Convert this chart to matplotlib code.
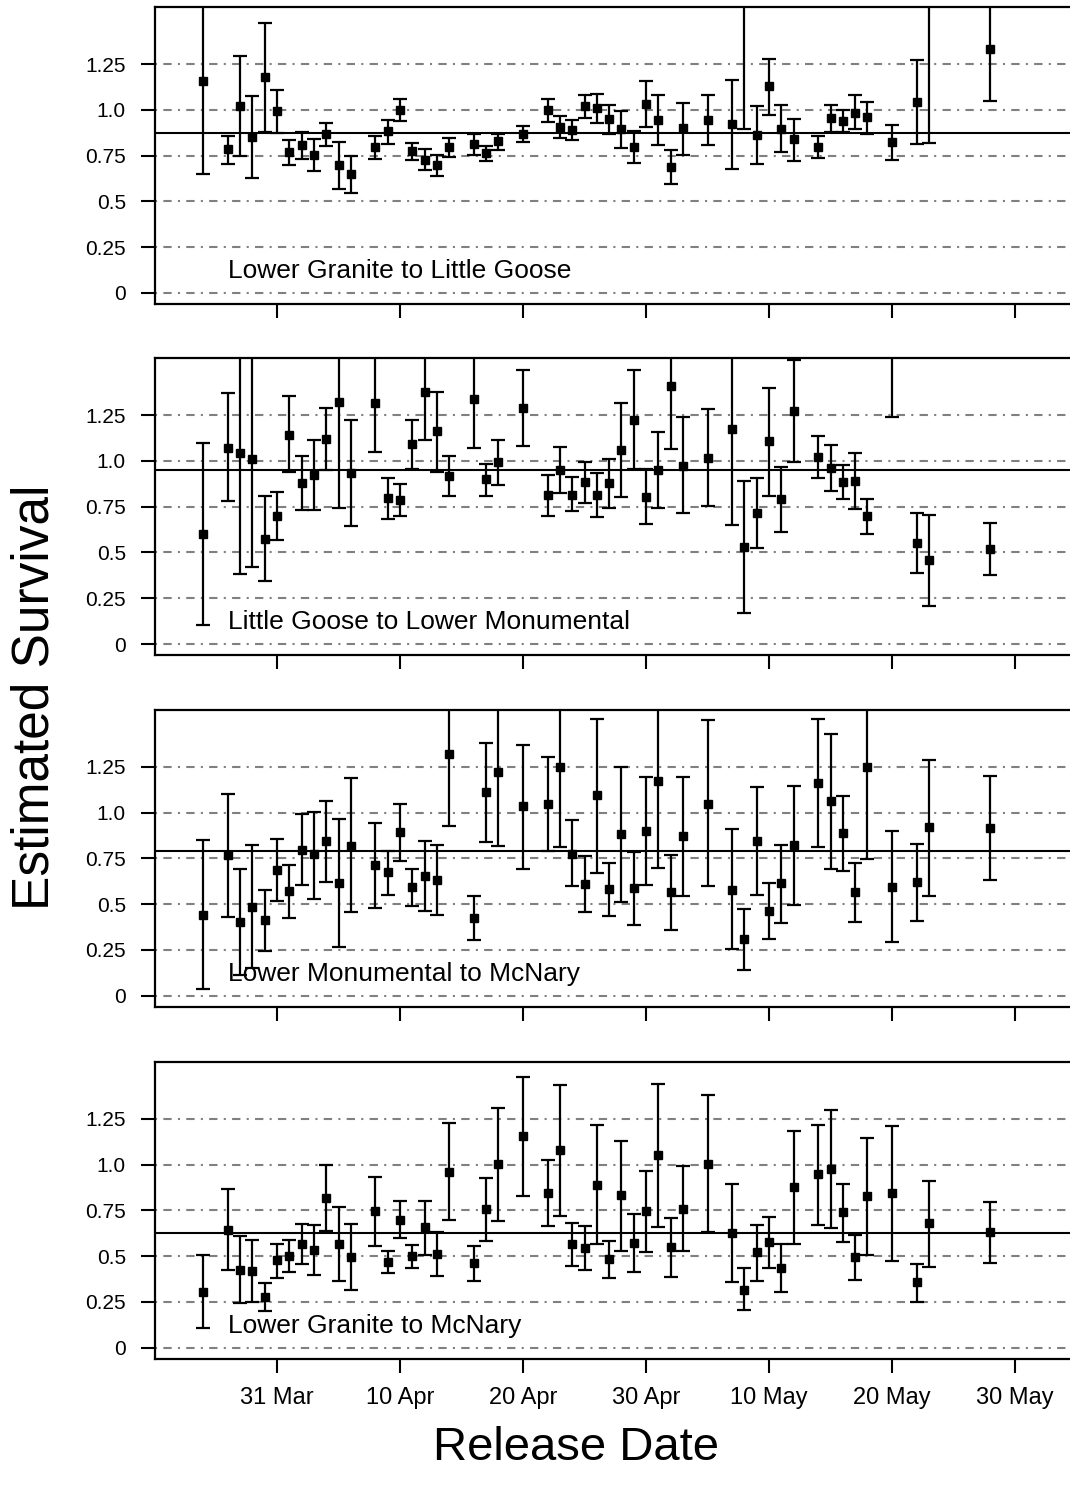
import matplotlib
matplotlib.use('Agg')
import matplotlib.pyplot as plt
import matplotlib.dates as mdates
import numpy as np
from datetime import datetime

plt.rcParams['font.family'] = ['Liberation Sans', 'DejaVu Sans']

YEAR = 2010

# release dates (month-day), shared by all four reaches
release_dates = ['03-25', '03-27', '03-28', '03-29', '03-30', '03-31',
                 '04-01', '04-02', '04-03', '04-04', '04-05', '04-06', '04-08', '04-09',
                 '04-10', '04-11', '04-12', '04-13', '04-14', '04-16', '04-17', '04-18',
                 '04-20', '04-22', '04-23', '04-24', '04-25', '04-26', '04-27', '04-28',
                 '04-29', '04-30',
                 '05-01', '05-02', '05-03', '05-05', '05-07', '05-08', '05-09', '05-10',
                 '05-11', '05-12', '05-14', '05-15', '05-16', '05-17', '05-18', '05-20',
                 '05-22', '05-23', '05-28']

reach_names = ['Lower Granite to Little Goose',
               'Little Goose to Lower Monumental',
               'Lower Monumental to McNary',
               'Lower Granite to McNary']

reach_means = [0.873, 0.953, 0.791, 0.626]

# Lower Granite to Little Goose
est1 = [1.155, 0.784, 1.023, 0.853, 1.179, 0.993,
        0.770, 0.806, 0.753, 0.866, 0.697, 0.648, 0.795, 0.882, 0.997, 0.773, 0.728, 0.697, 0.795,
        0.813, 0.762, 0.828, 0.870, 1.001, 0.904, 0.890, 1.019, 1.008, 0.950, 0.893, 0.797, 1.032,
        0.944, 0.686, 0.899, 0.943, 0.921, 1.700, 0.864, 1.128, 0.895, 0.841, 0.795, 0.953, 0.941,
        0.984, 0.959, 0.822, 1.041, 1.700, 1.330]
lo1 = [0.651, 0.706, 0.750, 0.628, 0.877, 0.873,
       0.697, 0.731, 0.666, 0.801, 0.569, 0.544, 0.731, 0.815, 0.939, 0.726, 0.673, 0.639, 0.742,
       0.753, 0.719, 0.781, 0.826, 0.935, 0.844, 0.833, 0.957, 0.926, 0.870, 0.790, 0.708, 0.906,
       0.808, 0.595, 0.755, 0.806, 0.677, 0.895, 0.704, 0.972, 0.771, 0.722, 0.739, 0.881, 0.881,
       0.895, 0.868, 0.726, 0.811, 0.817, 1.050]
hi1 = [1.660, 0.859, 1.295, 1.077, 1.474, 1.110,
       0.837, 0.879, 0.841, 0.928, 0.826, 0.750, 0.857, 0.946, 1.059, 0.819, 0.788, 0.755, 0.846,
       0.866, 0.801, 0.868, 0.913, 1.059, 0.968, 0.943, 1.079, 1.086, 1.024, 0.992, 0.882, 1.155,
       1.079, 0.779, 1.035, 1.081, 1.161, 2.500, 1.023, 1.279, 1.026, 0.952, 0.855, 1.028, 1.001,
       1.081, 1.044, 0.917, 1.272, 2.600, 1.610]

# Little Goose to Lower Monumental
est2 = [0.600, 1.073, 1.043, 1.008, 0.575, 0.699,
        1.144, 0.879, 0.922, 1.117, 1.319, 0.933, 1.314, 0.795, 0.786, 1.092, 1.374, 1.163, 0.917,
        1.336, 0.901, 0.993, 1.288, 0.813, 0.950, 0.815, 0.884, 0.813, 0.879, 1.059, 1.221, 0.802,
        0.950, 1.408, 0.973, 1.015, 1.174, 0.531, 0.715, 1.108, 0.790, 1.275, 1.021, 0.959, 0.884,
        0.890, 0.699, 1.800, 0.551, 0.459, 0.519]
lo2 = [0.102, 0.782, 0.384, 0.420, 0.346, 0.566,
       0.937, 0.731, 0.731, 0.950, 0.741, 0.644, 1.050, 0.684, 0.697, 0.957, 1.112, 0.939, 0.808,
       1.070, 0.811, 0.870, 1.079, 0.699, 0.826, 0.726, 0.770, 0.691, 0.741, 0.804, 0.957, 0.653,
       0.744, 1.063, 0.713, 0.751, 0.650, 0.171, 0.526, 0.811, 0.613, 0.992, 0.906, 0.833, 0.790,
       0.737, 0.602, 1.239, 0.386, 0.207, 0.377]
hi2 = [1.095, 1.370, 1.700, 1.600, 0.806, 0.832,
       1.357, 1.026, 1.115, 1.288, 1.900, 1.225, 1.580, 0.904, 0.872, 1.225, 1.640, 1.377, 1.028,
       1.600, 0.984, 1.115, 1.494, 0.922, 1.075, 0.913, 0.992, 0.932, 1.013, 1.317, 1.497, 0.957,
       1.159, 1.750, 1.239, 1.281, 1.700, 0.890, 0.906, 1.397, 0.968, 1.550, 1.137, 1.086, 0.977,
       1.043, 0.790, 2.400, 0.713, 0.706, 0.660]

# Lower Monumental to McNary
est3 = [0.442, 0.768, 0.400, 0.486, 0.411, 0.684,
        0.570, 0.797, 0.771, 0.842, 0.613, 0.819, 0.711, 0.673, 0.892, 0.591, 0.651, 0.630, 1.319,
        0.422, 1.110, 1.221, 1.033, 1.044, 1.248, 0.775, 0.610, 1.094, 0.582, 0.881, 0.586, 0.901,
        1.170, 0.564, 0.870, 1.048, 0.579, 0.308, 0.842, 0.460, 0.613, 0.821, 1.159, 1.061, 0.886,
        0.564, 1.246, 0.595, 0.619, 0.919, 0.913]
lo3 = [0.038, 0.429, 0.115, 0.153, 0.242, 0.515,
       0.426, 0.604, 0.529, 0.622, 0.266, 0.457, 0.477, 0.551, 0.733, 0.491, 0.460, 0.439, 0.928,
       0.302, 0.839, 0.815, 0.693, 0.788, 0.810, 0.600, 0.457, 0.668, 0.433, 0.511, 0.388, 0.604,
       0.695, 0.360, 0.542, 0.597, 0.253, 0.142, 0.548, 0.307, 0.398, 0.493, 0.810, 0.691, 0.682,
       0.402, 0.744, 0.291, 0.408, 0.544, 0.630]
hi3 = [0.848, 1.099, 0.691, 0.821, 0.575, 0.855,
       0.711, 0.992, 1.004, 1.064, 0.963, 1.188, 0.941, 0.791, 1.044, 0.693, 0.846, 0.822, 1.710,
       0.544, 1.379, 1.630, 1.368, 1.303, 1.690, 0.957, 0.761, 1.512, 0.724, 1.246, 0.782, 1.195,
       1.650, 0.766, 1.194, 1.503, 0.908, 0.475, 1.137, 0.617, 0.824, 1.143, 1.510, 1.430, 1.088,
       0.726, 1.750, 0.897, 0.830, 1.288, 1.201]

# Lower Granite to McNary
est4 = [0.302, 0.644, 0.424, 0.418, 0.277, 0.479,
        0.502, 0.564, 0.533, 0.815, 0.564, 0.495, 0.746, 0.468, 0.697, 0.502, 0.659, 0.511, 0.959,
        0.462, 0.757, 1.001, 1.155, 0.844, 1.079, 0.564, 0.546, 0.888, 0.484, 0.833, 0.571, 0.746,
        1.052, 0.549, 0.757, 1.006, 0.624, 0.318, 0.522, 0.575, 0.435, 0.877, 0.948, 0.975, 0.742,
        0.495, 0.828, 0.844, 0.358, 0.680, 0.631]
lo4 = [0.106, 0.422, 0.244, 0.249, 0.202, 0.382,
       0.411, 0.457, 0.395, 0.635, 0.364, 0.315, 0.553, 0.406, 0.597, 0.437, 0.509, 0.391, 0.697,
       0.366, 0.584, 0.690, 0.830, 0.666, 0.717, 0.448, 0.422, 0.564, 0.380, 0.531, 0.411, 0.522,
       0.662, 0.388, 0.526, 0.630, 0.357, 0.207, 0.364, 0.437, 0.302, 0.564, 0.671, 0.655, 0.580,
       0.369, 0.508, 0.473, 0.251, 0.442, 0.464]
hi4 = [0.508, 0.866, 0.610, 0.588, 0.353, 0.568,
       0.590, 0.677, 0.670, 0.999, 0.770, 0.675, 0.935, 0.531, 0.799, 0.560, 0.804, 0.630, 1.225,
       0.553, 0.928, 1.310, 1.481, 1.024, 1.437, 0.682, 0.664, 1.217, 0.584, 1.130, 0.730, 0.964,
       1.441, 0.706, 0.990, 1.381, 0.895, 0.433, 0.673, 0.715, 0.568, 1.185, 1.219, 1.297, 0.893,
       0.617, 1.148, 1.212, 0.460, 0.913, 0.797]

y_ticks = [0, 0.25, 0.5, 0.75, 1.0, 1.25]
y_tick_labels = ['0', '0.25', '0.5', '0.75', '1.0', '1.25']
x_tick_dates = ['03-31', '04-10', '04-20', '04-30', '05-10', '05-20', '05-30']


def to_date(md):
    m, d = md.split('-')
    return datetime(YEAR, int(m), int(d))


x = mdates.date2num([to_date(d) for d in release_dates])
x_ticks = mdates.date2num([to_date(d) for d in x_tick_dates])
x_left = mdates.date2num(datetime(YEAR, 3, 21)) + 0.08
x_right = mdates.date2num(datetime(YEAR, 6, 3)) + 0.88
label_x = mdates.date2num(datetime(YEAR, 3, 27))

panels = [(est1, lo1, hi1), (est2, lo2, hi2), (est3, lo3, hi3), (est4, lo4, hi4)]
bottoms = [0.7960, 0.5604, 0.3244, 0.0881]

fig = plt.figure(figsize=(10.7, 14.9), dpi=100)

for i, (est, lo, hi) in enumerate(panels):
    ax = fig.add_axes([0.1449, bottoms[i], 0.8598, 0.1991])
    est = np.array(est)
    lo = np.array(lo)
    hi = np.array(hi)

    for g in y_ticks:
        ax.axhline(g, color='#808080', lw=1.5, ls=(0, (1, 3, 4, 3)), zorder=1)
    ax.axhline(reach_means[i], color='black', lw=1.5, zorder=2)
    ax.errorbar(x, est, yerr=[est - lo, hi - est], fmt='s', color='black',
                ms=6, capsize=5, elinewidth=1.6, capthick=1.6, zorder=3)

    ax.text(label_x, 0.12, reach_names[i], ha='left', va='center', fontsize=19)

    ax.set_xlim(x_left, x_right)
    ax.set_ylim(-0.06, 1.56)
    ax.set_yticks(y_ticks)
    ax.set_yticklabels(y_tick_labels)
    ax.set_xticks(x_ticks)
    if i == 3:
        ax.xaxis.set_major_formatter(mdates.DateFormatter('%d %b'))
    else:
        ax.set_xticklabels([])
    ax.tick_params(axis='y', direction='out', length=10, width=1.5, labelsize=15, pad=11)
    ax.tick_params(axis='x', direction='out', length=10, width=1.5, labelsize=17, pad=10)
    for s in ax.spines.values():
        s.set_linewidth(1.6)

fig.text(0.033, 0.532, 'Estimated Survival', rotation=90, ha='center', va='center', fontsize=37)
fig.text(0.538, 0.028, 'Release Date', ha='center', va='center', fontsize=34)

fig.savefig('out.png', dpi=100)
